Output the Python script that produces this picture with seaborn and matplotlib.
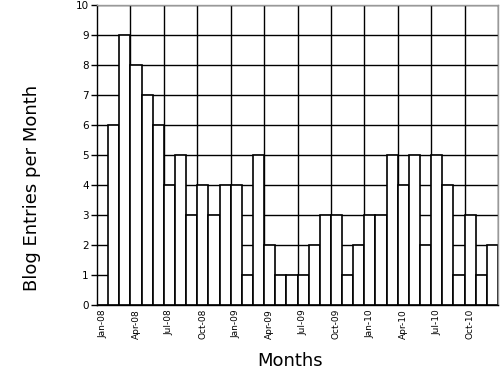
import numpy as np
import pandas as pd
import matplotlib
matplotlib.use("Agg")
import matplotlib.pyplot as plt
import seaborn as sns

# monthly counts Jan-08 .. Dec-10
months = pd.date_range("2008-01-01", "2010-12-01", freq="MS").strftime("%b-%y").tolist()
entries = [0, 6, 9, 8, 7, 6, 4, 5, 3, 4, 3, 4,
           4, 1, 5, 2, 1, 1, 1, 2, 3, 3, 1, 2,
           3, 3, 5, 4, 5, 2, 5, 4, 1, 3, 1, 2]

df = pd.DataFrame({"month": months, "entries": entries})

sns.set_style("white")
plt.rcParams["font.family"] = ["DejaVu Sans"]
plt.rcParams["text.color"] = "black"
plt.rcParams["axes.labelcolor"] = "black"
plt.rcParams["xtick.color"] = "black"
plt.rcParams["ytick.color"] = "black"

fig = plt.figure(figsize=(5, 3.75), dpi=100)
ax = fig.add_axes([0.194, 0.187, 0.802, 0.8])

sns.barplot(data=df, x="month", y="entries", color="white", edgecolor="black",
            linewidth=1.2, width=1.0, saturation=1, ax=ax)

n = len(months)
ax.set_xlim(-0.5, n - 0.5)
ax.set_ylim(0, 10)
ax.set_yticks(range(0, 11))

# gridlines: horizontal every unit, vertical every quarter
ax.set_axisbelow(True)
ax.yaxis.grid(True, color="black", linewidth=1)
for xv in np.arange(-0.5, n, 3)[1:]:
    ax.axvline(xv, color="black", linewidth=1, zorder=0)

ax.set_xticks(range(0, n, 3))
ax.set_xticklabels(months[::3], rotation=90, fontsize=6.5)
ax.set_xticks(np.arange(-0.5, n, 1), minor=True)
ax.tick_params(axis="x", which="major", length=0, pad=3)
ax.tick_params(axis="x", which="minor", length=4, width=1, color="black", direction="out")
ax.tick_params(axis="y", length=4, width=1, color="black", direction="out", labelsize=7.5, pad=2)
ax.tick_params(bottom=True, left=True)

for side in ["left", "bottom"]:
    ax.spines[side].set_color("black")
    ax.spines[side].set_linewidth(1)
for side in ["top", "right"]:
    ax.spines[side].set_color("#999999")
    ax.spines[side].set_linewidth(1)

ax.set_xlabel("Months", fontsize=13)
ax.set_ylabel("Blog Entries per Month", fontsize=13)
ax.xaxis.set_label_coords(0.4825, -0.187)
ax.yaxis.set_label_coords(-0.162, 0.39)
ax.xaxis.label.set_va("center")
ax.yaxis.label.set_va("center")

plt.savefig("out.png", dpi=100)
